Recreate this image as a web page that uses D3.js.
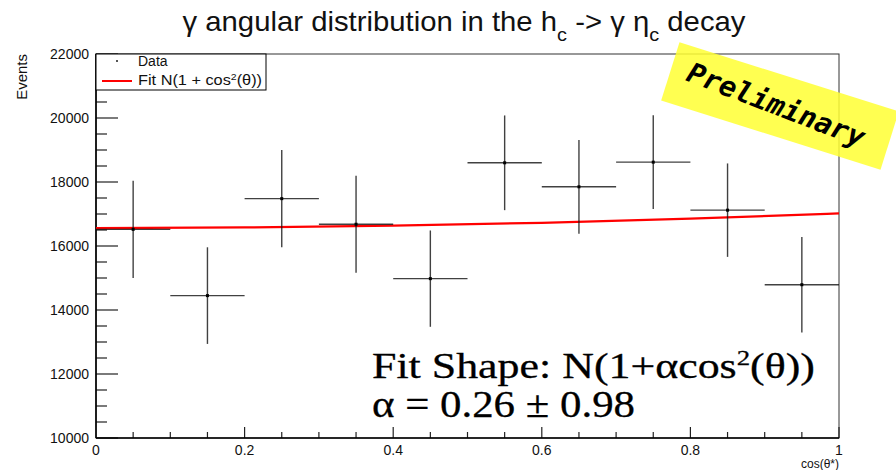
<!DOCTYPE html>
<html>
<head>
<meta charset="utf-8">
<script src="https://cdn.jsdelivr.net/npm/d3@7"></script>
<style>
  html, body { margin: 0; padding: 0; background: #fff; }
  svg { display: block; }
</style>
</head>
<body>
<svg id="chart" width="896" height="470"></svg>
<script>
// ---- data ----
const binCenters = [0.05, 0.15, 0.25, 0.35, 0.45, 0.55, 0.65, 0.75, 0.85, 0.95];
const binHalfWidth = 0.05;
const events = [16520, 14450, 17480, 16680, 14980, 18600, 17850, 18620, 17120, 14790];
const errors = [1520, 1510, 1520, 1515, 1505, 1480, 1465, 1465, 1460, 1495];
const fitX = [0.0, 0.2, 0.4, 0.6, 0.8, 1.0];
const fitY = [16560, 16580, 16635, 16725, 16855, 17020];
const yTickValues = [10000, 12000, 14000, 16000, 18000, 20000, 22000];
const xTickValues = [0, 0.2, 0.4, 0.6, 0.8, 1];
const xTickLabels = ["0", "0.2", "0.4", "0.6", "0.8", "1"];

const svg = d3.select("#chart");
const L = 96, R = 839, T = 54, B = 438;

const x = d3.scaleLinear().domain([0, 1]).range([L, R]);
const y = d3.scaleLinear().domain([10000, 22000]).range([B, T]);

// frame (top & right)
svg.append("rect").attr("x", L).attr("y", T).attr("width", R - L).attr("height", B - T)
  .attr("fill", "none").attr("stroke", "#333").attr("stroke-width", 1);

// y axis ticks (inward)
const yMinor = d3.range(10000, 22001, 500);
const gy = svg.append("g");
gy.selectAll("line.ym").data(yMinor).join("line")
  .attr("x1", L).attr("x2", d => (d % 2000 === 0) ? L + 22 : L + 11)
  .attr("y1", d => y(d)).attr("y2", d => y(d))
  .attr("stroke", "#222").attr("stroke-width", 1.2);
gy.append("line").attr("x1", L).attr("x2", L).attr("y1", T).attr("y2", B)
  .attr("stroke", "#000").attr("stroke-width", 1.6);
gy.selectAll("text").data(yTickValues).join("text")
  .attr("x", L - 7).attr("y", d => y(d)).attr("dy", "0.36em")
  .attr("text-anchor", "end")
  .attr("font-family", "Liberation Sans, Arial, sans-serif").attr("font-size", 14)
  .attr("fill", "#111")
  .text(d => d);

// x axis ticks (inward)
const xMinor = d3.range(0, 21).map(i => i * 0.05);
const gx = svg.append("g");
gx.selectAll("line.xm").data(xMinor).join("line")
  .attr("x1", d => x(d)).attr("x2", d => x(d))
  .attr("y1", B).attr("y2", (d, i) => (i % 4 === 0) ? B - 11 : B - 6)
  .attr("stroke", "#222").attr("stroke-width", 1.2);
gx.append("line").attr("x1", L).attr("x2", R).attr("y1", B).attr("y2", B)
  .attr("stroke", "#000").attr("stroke-width", 1.6);
gx.selectAll("text").data(xTickValues).join("text")
  .attr("x", d => x(d)).attr("y", B + 17)
  .attr("text-anchor", "middle")
  .attr("font-family", "Liberation Sans, Arial, sans-serif").attr("font-size", 14)
  .attr("fill", "#111")
  .text((d, i) => xTickLabels[i]);

// axis titles
svg.append("text")
  .attr("transform", `translate(27, ${T}) rotate(-90)`)
  .attr("text-anchor", "end")
  .attr("font-family", "Liberation Sans, Arial, sans-serif").attr("font-size", 15)
  .attr("fill", "#111")
  .text("Events");
svg.append("text")
  .attr("x", R).attr("y", 468).attr("text-anchor", "end")
  .attr("font-family", "Liberation Sans, Arial, sans-serif").attr("font-size", 12)
  .attr("fill", "#111")
  .text("cos(θ*)");

// fit curve
const line = d3.line().x((d, i) => x(fitX[i])).y(d => y(d)).curve(d3.curveMonotoneX);
svg.append("path").datum(fitY).attr("d", line)
  .attr("fill", "none").attr("stroke", "#ff0000").attr("stroke-width", 2.2);

// data error bars
const gd = svg.append("g").attr("stroke", "#111").attr("stroke-opacity", 0.8).attr("stroke-width", 1.4);
binCenters.forEach((c, i) => {
  gd.append("line").attr("x1", x(c - binHalfWidth)).attr("x2", x(c + binHalfWidth))
    .attr("y1", y(events[i])).attr("y2", y(events[i]));
  gd.append("line").attr("x1", x(c)).attr("x2", x(c))
    .attr("y1", y(events[i] + errors[i])).attr("y2", y(events[i] - errors[i]));
});
svg.selectAll("rect.mk").data(events).join("rect")
  .attr("x", (d, i) => x(binCenters[i]) - 1.5).attr("y", d => y(d) - 1.5)
  .attr("width", 3).attr("height", 3).attr("fill", "#000");

// legend
const lg = svg.append("g");
lg.append("rect").attr("x", L).attr("y", T).attr("width", 170).attr("height", 36)
  .attr("fill", "#fff").attr("stroke", "#000").attr("stroke-width", 1);
lg.append("rect").attr("x", 116).attr("y", 60).attr("width", 2).attr("height", 2).attr("fill", "#555");
lg.append("text").attr("x", 138).attr("y", 66)
  .attr("font-family", "Liberation Sans, Arial, sans-serif").attr("font-size", 14).attr("fill", "#111")
  .text("Data");
lg.append("line").attr("x1", 102).attr("x2", 132).attr("y1", 81).attr("y2", 81)
  .attr("stroke", "#ff0000").attr("stroke-width", 2);
const lt = lg.append("text").attr("x", 138).attr("y", 85)
  .attr("font-family", "Liberation Sans, Arial, sans-serif").attr("font-size", 14).attr("fill", "#111")
  .attr("textLength", 124).attr("lengthAdjust", "spacingAndGlyphs");
lt.append("tspan").text("Fit N(1 + cos");
lt.append("tspan").attr("dy", -5).attr("font-size", 9).text("2");
lt.append("tspan").attr("dy", 5).text("(θ))");

// title
const tt = svg.append("text").attr("x", 464).attr("y", 31).attr("text-anchor", "middle")
  .attr("font-family", "Liberation Sans, Arial, sans-serif").attr("font-size", 28).attr("fill", "#111")
  .attr("textLength", 563).attr("lengthAdjust", "spacingAndGlyphs");
tt.append("tspan").text("γ angular distribution in the h");
tt.append("tspan").attr("dy", 10).attr("font-size", 19).text("c");
tt.append("tspan").attr("dy", -10).text(" -> γ η");
tt.append("tspan").attr("dy", 10).attr("font-size", 19).text("c");
tt.append("tspan").attr("dy", -10).text(" decay");

// annotation
const ann = svg.append("g").attr("font-family", "Liberation Serif, Times New Roman, serif")
  .attr("fill", "#000").attr("stroke", "#000").attr("stroke-width", 0.3);
const a1 = ann.append("text").attr("x", 372).attr("y", 378).attr("font-size", 36)
  .attr("textLength", 443).attr("lengthAdjust", "spacingAndGlyphs");
a1.append("tspan").text("Fit Shape: N(1+αcos");
a1.append("tspan").attr("dy", -13).attr("font-size", 22).text("2");
a1.append("tspan").attr("dy", 13).text("(θ))");
ann.append("text").attr("x", 372).attr("y", 417).attr("font-size", 38)
  .attr("textLength", 263).attr("lengthAdjust", "spacingAndGlyphs")
  .text("α = 0.26 ± 0.98");

// preliminary stamp
const st = svg.append("g").attr("transform", "translate(780,106) rotate(17.5)");
st.append("rect").attr("x", -115).attr("y", -30.5).attr("width", 230).attr("height", 61)
  .attr("fill", "#ffff33").attr("fill-opacity", 0.85);
st.append("text").attr("x", -4).attr("y", 10).attr("text-anchor", "middle")
  .attr("transform", "rotate(3.5)")
  .attr("font-family", "DejaVu Sans Mono, Liberation Mono, monospace")
  .attr("font-weight", "bold").attr("font-style", "italic").attr("font-size", 28)
  .attr("textLength", 188).attr("lengthAdjust", "spacingAndGlyphs")
  .attr("fill", "#000")
  .text("Preliminary");
</script>
</body>
</html>
